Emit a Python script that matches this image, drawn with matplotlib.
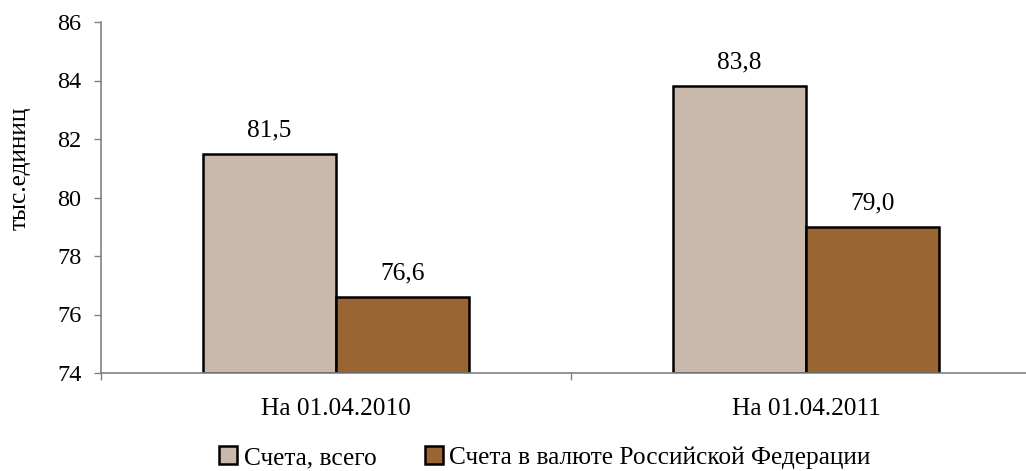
import numpy as np
import matplotlib.pyplot as plt

plt.rcParams['font.family'] = 'serif'
plt.rcParams['font.serif'] = ['Liberation Serif', 'DejaVu Serif']

categories = ['На 01.04.2010', 'На 01.04.2011']
total = [81.5, 83.8]
rub = [76.6, 79.0]
series_names = ['Счета, всего', 'Счета в валюте Российской Федерации']
labels_total = ['81,5', '83,8']
labels_rub = ['76,6', '79,0']

c_total = '#C8B9AA'
c_rub = '#996633'
grey = '#808080'
fs = 18.3

fig = plt.figure(figsize=(10.26, 4.71), dpi=100)
ax = fig.add_axes([101/1026, 98/471, 940/1026, 351/471])

x = np.arange(len(categories))
w = 0.284
b1 = ax.bar(x - w/2, np.array(total) - 74, w, bottom=74, color=c_total,
            edgecolor='black', linewidth=1.8, label=series_names[0])
b2 = ax.bar(x + w/2, np.array(rub) - 74, w, bottom=74, color=c_rub,
            edgecolor='black', linewidth=1.8, label=series_names[1])

for xi, v, t in zip(x - w/2, total, labels_total):
    ax.annotate(t, (xi, v), xytext=(0, 9), textcoords='offset points',
                ha='center', va='bottom', fontsize=fs)
for xi, v, t in zip(x + w/2, rub, labels_rub):
    ax.annotate(t, (xi, v), xytext=(0, 9), textcoords='offset points',
                ha='center', va='bottom', fontsize=fs)

ax.set_xlim(-0.5, 1.5)
ax.set_ylim(74, 86)
ax.set_yticks(np.arange(74, 87, 2))
ax.tick_params(axis='y', labelsize=17.5, color=grey, length=5, width=1, pad=9)

ax.set_xticks([-0.5, 0.5, 1.5])
ax.set_xticklabels([])
ax.tick_params(axis='x', which='major', color=grey, length=5, width=1)
ax.set_xticks(x, minor=True)
ax.set_xticklabels(categories, minor=True)
ax.tick_params(axis='x', which='minor', length=0, labelsize=fs, pad=18)

for s in ['top', 'right']:
    ax.spines[s].set_visible(False)
for s in ['left', 'bottom']:
    ax.spines[s].set_color(grey)
    ax.spines[s].set_linewidth(1.2)

ax.set_ylabel('тыс.единиц', fontsize=fs)
ax.yaxis.set_label_coords(-0.075, 0.584)

fig.legend(handles=[b1, b2], loc='center', bbox_to_anchor=(0.531, 0.028),
           ncol=2, frameon=False, fontsize=fs, handlelength=0.72,
           handleheight=0.72, handletextpad=0.25, columnspacing=1.9,
           borderaxespad=0)

fig.savefig('out.png', dpi=100)
